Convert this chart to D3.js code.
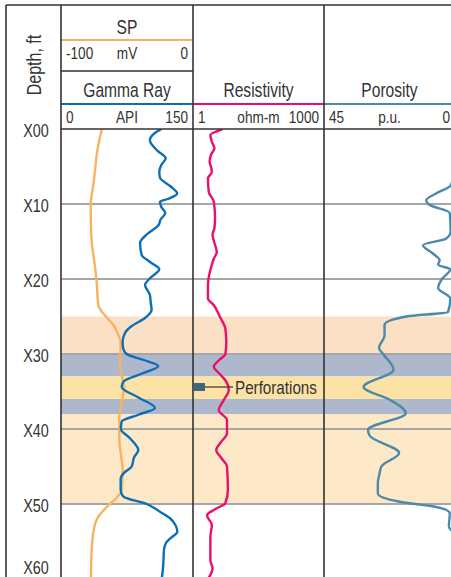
<!DOCTYPE html>
<html>
<head>
<meta charset="utf-8">
<script src="https://cdn.jsdelivr.net/npm/d3@7"></script>
<style>
  body { margin: 0; background: #fff; }
  svg text { font-family: "Liberation Sans", Arial, sans-serif; fill: #333; }
</style>
</head>
<body>
<div id="chart"></div>
<script>
const W = 451, H = 577;

// depth ticks (ft below X00)
const depthTicks = [0, 10, 20, 30, 40, 50, 60];

// shaded zones: top, base (ft), kind
const zoneTops  = [25, 30, 33, 36, 38];
const zoneBases = [30, 33, 36, 38, 50];
const zoneKinds = ["upper", "shale", "pay", "shale", "lower"];

// perforated interval (ft)
const perfDepth = 34.4;

// SP, mV  [depth, value]
const spCurve = [
  [0, -69], [1.5, -71], [3.5, -73], [6, -74.5], [8, -76], [10, -77.5], [13, -77.3], [15, -76.8],
  [18, -74.5], [20.4, -73], [23.5, -71.7], [25, -66], [26.1, -60.4], [27.5, -56.5], [28.4, -54.8],
  [30, -55], [31.7, -55.3], [34.4, -52.3], [36.5, -54], [38.4, -55.8], [41.5, -55.8], [43.5, -54.5],
  [45.5, -53.3], [48.1, -54], [49.2, -58], [50.4, -65.4], [52.1, -73], [54.4, -76], [57, -77], [60, -77.3]
];

// Gamma Ray, API
const grCurve = [
  [0, 114], [0.6, 106], [1.5, 101], [2.8, 108.7], [3.9, 119], [4.8, 114], [5.7, 111.7], [6.5, 112.5],
  [7.6, 124], [8.6, 132], [9.3, 122], [9.7, 112.5], [10.4, 114], [11.2, 118.5], [12.1, 113], [12.8, 111],
  [14, 98], [15.2, 89.8], [16.8, 91.7], [17.8, 102], [18.7, 111.7], [19.8, 102], [20.8, 95.5], [22.1, 101],
  [23.2, 102], [24.1, 103], [25.2, 95.5], [26.3, 80], [27.2, 72.7], [28.4, 70], [29.2, 70.5], [30, 74.6],
  [30.8, 94], [31.6, 110.6], [32.6, 92], [33.7, 70.8], [34.4, 69], [35.8, 88], [37.2, 106.8],
  [38.1, 88], [39, 69], [40, 68], [41.2, 78], [42.3, 86], [42.8, 87.9], [43.8, 83], [45, 80.3],
  [45.8, 72], [46.6, 67.8], [48.1, 67.8], [49, 70.8], [50, 97.4], [51, 112], [51.9, 123.9],
  [52.8, 130], [53.7, 132.2], [54.5, 125], [55.2, 119.3], [56.1, 117], [57.9, 116.3], [59, 115.5], [60, 114.4]
];

// Resistivity, ohm-m (log scale)
const resCurve = [
  [0, 4.8], [0.4, 3.2], [0.8, 2.5], [1.7, 2.7], [2.6, 3.1], [3.4, 2.6], [4.4, 2.4], [5.1, 2.6],
  [5.7, 2.7], [6.6, 2.2], [8.4, 2.3], [9.7, 3.0], [11.9, 3.2], [13.2, 3.1], [14.1, 2.8], [15.2, 3.1],
  [16.4, 3.5], [17.3, 3.0], [18.1, 2.7], [20.8, 2.2], [22.6, 2.2], [23.5, 3.0], [25, 4.1], [26.6, 5.5],
  [28.4, 5.8], [30, 5.5], [30.8, 4.0], [31.7, 3.0], [32.6, 4.0], [33.5, 5.5], [34.8, 6.6], [36.2, 5.0],
  [37.5, 3.9], [38.8, 6.0], [40.6, 6.0], [41.8, 4.3], [42.8, 3.4], [43.9, 4.5], [45, 6.0], [48.1, 6.3],
  [49.9, 5.5], [50.7, 3.2], [51.5, 2.1], [52.8, 2.7], [54.4, 2.5], [57.5, 2.5], [58.6, 2.8], [60, 2.2]
];

// Porosity, p.u. (scale 45 -> 0)
const porCurve = [
  [0, 0.6], [3, 0.3], [6, 0.6], [7.5, 1.4], [8.6, 6.5], [9.5, 9.9], [10.1, 8.8], [11.2, 1.8],
  [13.7, 1.5], [14.6, 3.0], [15.5, 11], [16.6, 7.6], [17.5, 5.3], [18.1, 5.8], [18.7, 1.6], [20, 4.5],
  [21.2, 5.8], [22.6, 1.6], [24.4, 2.4], [25, 16.7], [26.1, 24.2], [27.5, 24.2], [29.2, 26.1],
  [30, 24.7], [32.1, 21.1], [34.4, 31.4], [36.1, 22.4], [37.9, 16.9], [40.1, 29.9], [40.9, 29.3],
  [43.2, 19.2], [45, 25.3], [45.9, 25.9], [47.2, 26.5], [48.6, 26.5], [49.7, 19], [50.4, 6.4],
  [51.2, 1.8], [53, 2.1], [54, 0.4], [57, 0.3], [60, 0.4]
];

const svg = d3.select("#chart").append("svg")
  .attr("width", W).attr("height", H);

const leftX = 6, topY = 5, headBottom = 129;
const narrow = 0.8; // condensed look
const tracks = { depth: [6, 61], t1: [61, 193], t2: [193, 324], t3: [324, 455] };

const y = d3.scaleLinear().domain([0, 60]).range([headBottom, headBottom + 450]);
const xSp  = d3.scaleLinear().domain([-100, 0]).range(tracks.t1);
const xGr  = d3.scaleLinear().domain([0, 150]).range(tracks.t1);
const xRes = d3.scaleLog().domain([1, 1000]).range(tracks.t2);
const xPor = d3.scaleLinear().domain([45, 0]).range(tracks.t3);

const zoneColor = d3.scaleOrdinal()
  .domain(["upper", "shale", "pay", "lower"])
  .range(["#fbe0c5", "#aeb8cc", "#fde2a5", "#fde9c8"]);

// zones
svg.append("g").selectAll("rect")
  .data(zoneTops.map((t, i) => ({ top: t, base: zoneBases[i], kind: zoneKinds[i] })))
  .join("rect")
  .attr("x", tracks.t1[0]).attr("width", W - tracks.t1[0])
  .attr("y", d => y(d.top)).attr("height", d => y(d.base) - y(d.top))
  .attr("fill", d => zoneColor(d.kind));

// grid lines
svg.append("g").selectAll("line")
  .data(depthTicks.filter(d => d > 0))
  .join("line")
  .attr("x1", tracks.t1[0]).attr("x2", W)
  .attr("y1", d => y(d)).attr("y2", d => y(d))
  .attr("stroke", "#a6a6a6").attr("stroke-width", 1.8);

// depth labels via axis
const depthAxis = d3.axisRight(y)
  .tickValues(depthTicks)
  .tickSize(0)
  .tickFormat(d => "X" + String(d).padStart(2, "0"));
const ag = svg.append("g").attr("transform", "translate(36,0)").call(depthAxis);
ag.select(".domain").remove();
ag.selectAll(".tick").attr("transform", d => `translate(0,${Math.min(y(d), 566) + 1.5})`);
ag.selectAll("text")
  .attr("x", 0).attr("dy", "0.36em")
  .attr("text-anchor", "middle")
  .attr("transform", `scale(${narrow},1)`)
  .attr("font-family", null)
  .style("font-size", "18px").style("fill", "#333");

// curves
svg.append("clipPath").attr("id", "plot")
  .append("rect").attr("x", tracks.t1[0]).attr("y", headBottom)
  .attr("width", W - tracks.t1[0]).attr("height", H - headBottom);

function drawCurve(data, xs, color) {
  svg.append("path")
    .datum(data)
    .attr("clip-path", "url(#plot)")
    .attr("fill", "none")
    .attr("stroke", color)
    .attr("stroke-width", 2.4)
    .attr("d", d3.line().x(d => xs(d[1])).y(d => y(d[0])).curve(d3.curveMonotoneY));
}
drawCurve(spCurve, xSp, "#f9b262");
drawCurve(grCurve, xGr, "#0a6fb7");
drawCurve(resCurve, xRes, "#e8106b");
drawCurve(porCurve, xPor, "#4b8aa8");

// text helper, horizontally condensed
function label(g, x, yy, txt, anchor, size) {
  g.append("text")
    .attr("transform", `translate(${x},${yy}) scale(${narrow},1)`)
    .attr("text-anchor", anchor)
    .style("font-size", size + "px").text(txt);
}

// perforations marker
const perfY = y(perfDepth);
svg.append("rect").attr("x", tracks.t2[0] + 1).attr("y", perfY - 4)
  .attr("width", 11).attr("height", 8).attr("fill", "#3b687e");
svg.append("line").attr("x1", tracks.t2[0] + 12).attr("x2", 233)
  .attr("y1", perfY).attr("y2", perfY).attr("stroke", "#333").attr("stroke-width", 1.2);
label(svg, 235, perfY + 7, "Perforations", "start", 19);

// header
const hdr = svg.append("g");
function hline(x1, x2, yy, color, w) {
  hdr.append("line").attr("x1", x1).attr("x2", x2).attr("y1", yy).attr("y2", yy)
    .attr("stroke", color).attr("stroke-width", w);
}
function scaleRow(tr, yy, lo, unit, hi) {
  label(hdr, tr[0] + 5, yy, lo, "start", 17);
  label(hdr, (tr[0] + tr[1]) / 2, yy, unit, "middle", 17);
  label(hdr, tr[1] - 5, yy, hi, "end", 17);
}

hline(leftX, W, topY, "#333", 1.6);
hline(tracks.t1[0], tracks.t1[1], 71, "#333", 1.4);
hline(tracks.t1[0], W, headBottom, "#333", 1.6);
hline(tracks.t1[0], tracks.t1[1], 40, "#f9b262", 2.2);
hline(tracks.t1[0], tracks.t1[1], 104, "#0a6fb7", 2.2);
hline(tracks.t2[0], tracks.t2[1], 104, "#e8106b", 2.2);
hline(tracks.t3[0], W, 104, "#4b8aa8", 2.2);

label(hdr, (tracks.t1[0] + tracks.t1[1]) / 2, 34, "SP", "middle", 19.5);
scaleRow(tracks.t1, 59, "-100", "mV", "0");
label(hdr, (tracks.t1[0] + tracks.t1[1]) / 2, 97, "Gamma Ray", "middle", 19.5);
scaleRow(tracks.t1, 123, "0", "API", "150");
label(hdr, (tracks.t2[0] + tracks.t2[1]) / 2, 97, "Resistivity", "middle", 19.5);
scaleRow(tracks.t2, 123, "1", "ohm-m", "1000");
label(hdr, (tracks.t3[0] + tracks.t3[1]) / 2, 97, "Porosity", "middle", 19.5);
scaleRow(tracks.t3, 123, "45", "p.u.", "0");

hdr.append("text")
  .attr("transform", `translate(41,65) rotate(-90) scale(${narrow},1)`)
  .attr("text-anchor", "middle")
  .style("font-size", "20px").text("Depth, ft");

// vertical borders
svg.append("g").selectAll("line")
  .data([tracks.depth[0], tracks.t1[0], tracks.t2[0], tracks.t3[0]])
  .join("line")
  .attr("x1", d => d).attr("x2", d => d)
  .attr("y1", topY).attr("y2", H)
  .attr("stroke", "#333").attr("stroke-width", 1.6);
</script>
</body>
</html>
